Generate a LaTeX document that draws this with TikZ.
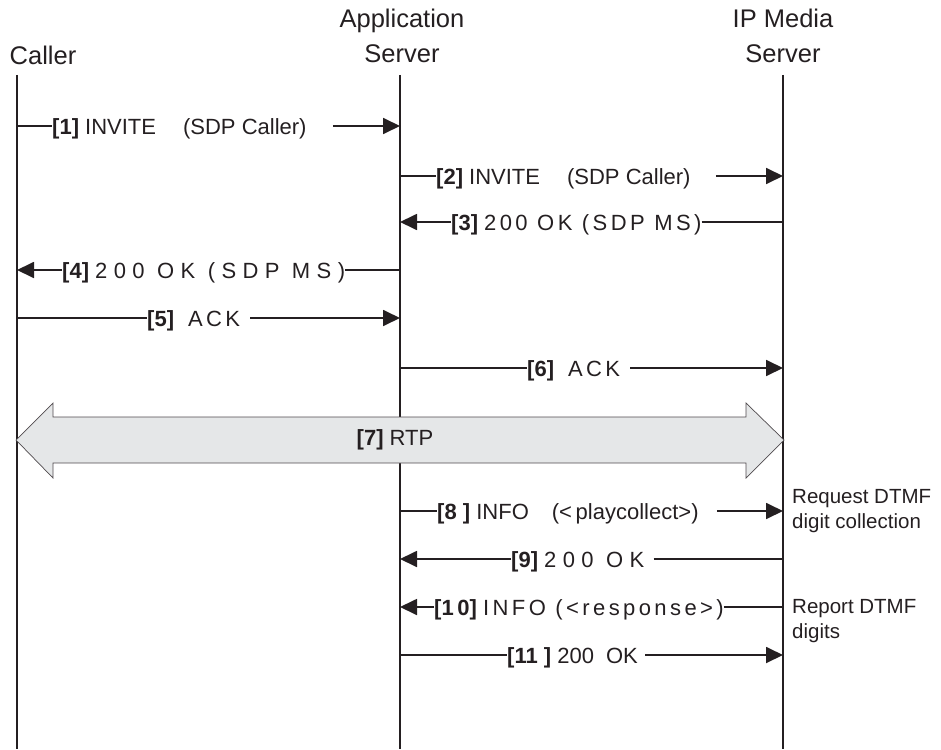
\documentclass[tikz,border=0pt]{standalone}
\usepackage{xcolor}
\usepackage{fontspec}
\setmainfont{Liberation Sans}
\newfontfamily\widefont[LetterSpace=15.5]{Liberation Sans}
\newfontfamily\widerfont[LetterSpace=29]{Liberation Sans}
\usepackage{tikz}
\usetikzlibrary{arrows.meta}
\usetikzlibrary{positioning}
\definecolor{inkcolor}{rgb}{0.14,0.12,0.13}
\definecolor{rtpgray}{rgb}{0.9,0.905,0.91}
\newcommand{\titlefont}{\fontsize{25.5}{35}\selectfont}
\newcommand{\msgfont}{\fontsize{22}{26}\selectfont}
\newcommand{\notefont}{\fontsize{20.5}{25}\selectfont}
\tikzset{
  lifeline/.style={draw=inkcolor, line width=1.8pt},
  msgline/.style={draw=inkcolor, line width=1.8pt},
  msgarrow/.style={msgline, -{Triangle[length=17pt,width=16pt]}},
  msgtext/.style={inner sep=0pt, text height=16pt, text depth=0pt, font=\msgfont, text=inkcolor, anchor=west},
  title/.style={inner sep=0pt, font=\titlefont, align=center, text=inkcolor},
  note/.style={inner sep=0pt, font=\notefont, align=left, text=inkcolor, anchor=north west},
  rtpband/.style={fill=rtpgray, draw=inkcolor!80, line width=0.7pt}
}

\begin{document}
\begin{tikzpicture}[x=1pt,y=-1pt]
\useasboundingbox (0,0) rectangle (941,749);
\node[title, anchor=base] (caller) at (43,65) {Caller};
\node[title, anchor=north] (appsrv) at (402,8.5) {Application\\Server};
\node[title, anchor=north] (mediasrv) at (783,8.5) {IP Media\\Server};
\coordinate (cl) at (17,75);
\coordinate (clb) at (17,749);
\coordinate (as) at (400,75);
\coordinate (asb) at (400,749);
\coordinate (ms) at (783,75);
\coordinate (msb) at (783,749);
\draw[lifeline] (cl) -- (clb);
\draw[lifeline] (as) -- (asb);
\draw[lifeline] (ms) -- (msb);

\node[msgtext] (m1) at (52,126) {\textbf{[1]} INVITE\hspace{27pt}(SDP Caller)};
\coordinate[right=26pt of m1] (m1e);
\draw[msgline] (m1.west -| cl) -- (m1.west);
\draw[msgarrow] (m1e) -- (m1e -| as);

\node[msgtext] (m2) at (436,176) {\textbf{[2]} INVITE\hspace{27pt}(SDP Caller)};
\coordinate[right=25pt of m2] (m2e);
\draw[msgline] (m2.west -| as) -- (m2.west);
\draw[msgarrow] (m2e) -- (m2e -| ms);

\node[msgtext] (m3) at (451,222) {\textbf{[3]} {\widefont 200 OK (SDP MS)}};
\draw[msgarrow] (m3.west) -- (m3.west -| as);
\draw[msgline] (m3.east) -- (m3.east -| ms);

\node[msgtext] (m4) at (62,270) {\textbf{[4]} {\widerfont 200 OK (SDP MS)}};
\draw[msgarrow] (m4.west) -- (m4.west -| cl);
\draw[msgline] (m4.east) -- (m4.east -| as);

\node[msgtext] (m5) at (147,318) {\textbf{[5]}\hspace{14pt}{\widefont ACK}};
\coordinate[right=10pt of m5] (m5e);
\draw[msgline] (m5.west -| cl) -- (m5.west);
\draw[msgarrow] (m5e) -- (m5e -| as);

\node[msgtext] (m6) at (527,368) {\textbf{[6]}\hspace{14pt}{\widefont ACK}};
\coordinate[right=10pt of m6] (m6e);
\draw[msgline] (m6.west -| as) -- (m6.west);
\draw[msgarrow] (m6e) -- (m6e -| ms);

\draw[rtpband] (16,440) -- (53,403) -- (53,417) -- (746,417) -- (746,403) -- (784,440)
  -- (746,478) -- (746,463) -- (53,463) -- (53,478) -- cycle;
\node[font=\msgfont, text=inkcolor] (rtp) at (395,440) {\textbf{[7]} RTP};

\node[msgtext] (m8) at (437,511) {\textbf{[8 ]} INFO\hspace{23pt}(<\,playcollect>)};
\coordinate[right=18pt of m8] (m8e);
\draw[msgline] (m8.west -| as) -- (m8.west);
\draw[msgarrow] (m8e) -- (m8e -| ms);

\node[msgtext] (m9) at (511,559) {\textbf{[9]} {\widerfont 200 OK}};
\coordinate[right=9pt of m9] (m9e);
\draw[msgarrow] (m9.west) -- (m9.west -| as);
\draw[msgline] (m9e) -- (m9e -| ms);

\node[msgtext] (m10) at (434,607) {\textbf{[1\,0]} {\widefont INFO (<response>)}};
\draw[msgarrow] (m10.west) -- (m10.west -| as);
\draw[msgline] (m10.east) -- (m10.east -| ms);

\node[msgtext] (m11) at (507,655) {\textbf{[11 ]} 200\hspace{12pt}OK};
\coordinate[right=7pt of m11] (m11e);
\draw[msgline] (m11.west -| as) -- (m11.west);
\draw[msgarrow] (m11e) -- (m11e -| ms);

\node[note] (reqnote) at (792,489) {Request DTMF\\digit collection};
\node[note] (repnote) at (792,599) {Report DTMF\\digits};
\end{tikzpicture}
\end{document}
